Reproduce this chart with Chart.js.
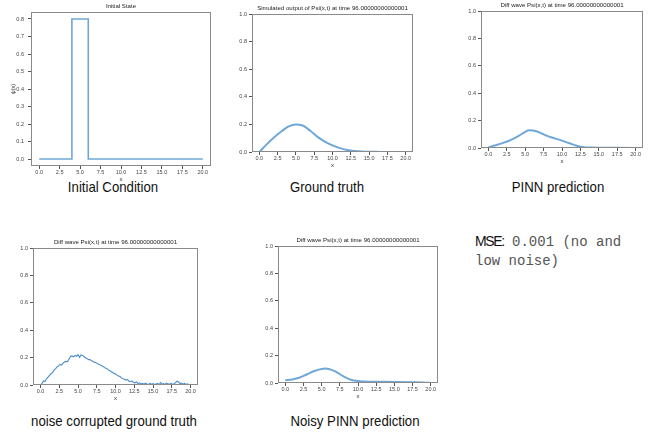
<!DOCTYPE html>
<html><head><meta charset="utf-8">
<script src="https://cdn.jsdelivr.net/npm/chart.js@4"></script>
<style>
html,body{margin:0;padding:0;background:#fff;width:656px;height:436px;overflow:hidden;position:relative;font-family:"Liberation Sans",Arial,sans-serif;}
canvas{position:absolute;}
.cap{position:absolute;font-size:15px;line-height:15px;white-space:nowrap;color:#111;transform:translateX(-50%) scaleX(0.88);transform-origin:50% 50%;}
.mse{position:absolute;left:475px;top:233px;font-size:14px;line-height:17.5px;color:#111;white-space:nowrap;}
.mse .lab{font-family:"Liberation Sans",Arial,sans-serif;letter-spacing:-1.4px;}
.mse .mono{font-family:"Liberation Mono","Courier New",monospace;color:#555;}
</style></head><body>

<div class="cap" style="left:113px;top:179px;">Initial Condition</div>
<div class="cap" style="left:327px;top:178.5px;">Ground truth</div>
<div class="cap" style="left:558px;top:179px;">PINN prediction</div>
<div class="cap" style="left:114px;top:413px;">noise corrupted ground truth</div>
<div class="cap" style="left:355px;top:413px;">Noisy PINN prediction</div>
<div class="mse"><span class="lab">MSE:</span><span class="mono"> 0.001 (no and<br>low noise)</span></div>

<canvas id="c1"></canvas>
<canvas id="c2"></canvas>
<canvas id="c3"></canvas>
<canvas id="c4"></canvas>
<canvas id="c5"></canvas>

<script>
// ---- data ----
const xTickVals = [0, 2.5, 5, 7.5, 10, 12.5, 15, 17.5, 20];
const yTickVals = [0, 0.2, 0.4, 0.6, 0.8, 1.0];
const yTickValsInit = [0, 0.1, 0.2, 0.3, 0.4, 0.5, 0.6, 0.7, 0.8];

const initX = [0, 4, 4, 6, 6, 20];
const initY = [0, 0, 0.8, 0.8, 0, 0];

const truthX = [0,1,2,3,4,5,6,7,8,9,10,11,12,13,14,15,16,17,18,19,20];
const truthY = [0,0.055,0.105,0.148,0.185,0.2,0.19,0.152,0.108,0.074,0.048,0.028,0.015,0.008,0.004,0.002,0.001,0,0,0,0];

const pinnX = [0,1,2,3,4,5,5.5,6,6.5,7,7.5,8,8.5,9,10,11,12,12.5,13,14,15,17.5,20];
const pinnY = [0.005,0.02,0.037,0.058,0.085,0.118,0.13,0.128,0.122,0.112,0.1,0.088,0.078,0.07,0.054,0.035,0.016,0.009,0.005,0.003,0.002,0.001,0];

const noisyX = [0,0.2,0.4,0.6,0.8,1,1.2,1.4,1.6,1.8,2,2.2,2.4,2.6,2.8,3,3.2,3.4,3.6,3.8,4,4.2,4.4,4.6,4.8,5,5.2,5.4,5.6,5.8,6,6.2,6.4,6.6,6.8,7,7.2,7.4,7.6,7.8,8,8.2,8.4,8.6,8.8,9,9.2,9.4,9.6,9.8,10,10.2,10.4,10.6,10.8,11,11.2,11.4,11.6,11.8,12,12.2,12.4,12.6,12.8,13,13.2,13.4,13.6,13.8,14,14.2,14.4,14.6,14.8,15,15.2,15.4,15.6,15.8,16,16.2,16.4,16.6,16.8,17,17.2,17.4,17.6,17.8,18,18.2,18.4,18.6,18.8,19,19.2,19.4,19.6,19.8,20];
const noisyY = [0,0.012,0.03,0.025,0.045,0.058,0.07,0.082,0.09,0.108,0.118,0.132,0.14,0.15,0.145,0.16,0.168,0.172,0.17,0.19,0.208,0.212,0.206,0.215,0.21,0.222,0.202,0.22,0.216,0.208,0.198,0.194,0.185,0.186,0.176,0.172,0.166,0.162,0.156,0.15,0.146,0.138,0.134,0.124,0.122,0.112,0.106,0.098,0.092,0.086,0.08,0.072,0.066,0.062,0.05,0.046,0.042,0.036,0.04,0.028,0.024,0.03,0.018,0.016,0.022,0.01,0.016,0.008,0.012,0.006,0.014,0.008,0.004,0.012,0.006,0.01,0.004,0.008,0.012,0.002,0.018,0.006,0.01,0.004,0.014,0.008,0.006,0.012,0.004,0.01,0.016,0.028,0.022,0.01,0.014,0.006,0.012,0.004,0.008,0.002,0.006];

const noisyPinnX = [0,1,2,3,4,5,5.5,6,7,8,9,10,11,12.5,15,17.5,19,20];
const noisyPinnY = [0.021,0.026,0.04,0.064,0.088,0.102,0.105,0.102,0.081,0.048,0.024,0.014,0.011,0.009,0.008,0.006,0.004,0.0];

const titleSim = 'Simulated output of Psi(x,t) at time 96.00000000000001';
const titleDiff = 'Diff wave Psi(x,t) at time 96.00000000000001';

// ---- drawing ----
const FAM = '"Liberation Sans", "DejaVu Sans", Arial, sans-serif';
const boxPlugin = {
  id: 'box',
  afterDraw(chart) {
    const a = chart.chartArea, c = chart.ctx;
    c.save();
    c.strokeStyle = '#8a8a8a';
    c.lineWidth = 1;
    c.strokeRect(Math.round(a.left) + 0.5, Math.round(a.top) + 0.5, Math.round(a.right - a.left) - 1, Math.round(a.bottom - a.top) - 1);
    c.restore();
  }
};

function pts(xs, ys) { return xs.map((x, i) => ({x: x, y: ys[i]})); }

function panel(id, rect, cfg) {
  const YW = 30, TH = 12, XH = 20, PR = 6;
  const cv = document.getElementById(id);
  const w = rect.R - rect.L + YW + PR, h = rect.B - rect.T + TH + XH;
  cv.width = w; cv.height = h;
  cv.style.left = (rect.L - YW) + 'px';
  cv.style.top = (rect.T - TH) + 'px';
  cv.style.width = w + 'px'; cv.style.height = h + 'px';
  new Chart(cv, {
    type: 'line',
    data: { datasets: [{
      data: pts(cfg.x, cfg.y),
      borderColor: cfg.color,
      borderWidth: cfg.width,
      pointRadius: 0,
      fill: false,
      tension: 0,
      cubicInterpolationMode: cfg.smooth ? 'monotone' : 'default'
    }]},
    options: {
      responsive: false, animation: false, devicePixelRatio: 1,
      layout: { padding: { top: 0, right: PR, bottom: 0, left: 0 } },
      plugins: {
        legend: { display: false }, tooltip: { enabled: false },
        title: { display: true, text: cfg.title, color: '#222', fullSize: false,
          font: { family: FAM, size: 6.1, weight: 'normal', lineHeight: 1 },
          padding: { top: 3, bottom: 2.9 } }
      },
      scales: {
        x: {
          type: 'linear', min: -1, max: 21,
          afterBuildTicks: s => { s.ticks = xTickVals.map(v => ({value: v})); },
          afterFit: s => { s.height = XH; },
          ticks: { font: { family: FAM, size: 5.5 }, color: '#444', padding: 0, maxRotation: 0, autoSkip: false,
                   callback: v => Number(v).toFixed(1) },
          grid: { drawOnChartArea: false, drawTicks: true, tickLength: 3, color: '#555' },
          border: { display: false },
          title: { display: true, text: 'x', color: '#333', font: { family: FAM, size: 6 }, padding: { top: 0, bottom: 3 } }
        },
        y: {
          type: 'linear', min: cfg.ymin, max: cfg.ymax,
          afterBuildTicks: s => { s.ticks = cfg.yticks.map(v => ({value: v})); },
          afterFit: s => { s.width = YW; },
          ticks: { font: { family: FAM, size: 5.5 }, color: '#444', padding: cfg.ypad, autoSkip: false,
                   callback: v => Number(v).toFixed(1) },
          grid: { drawOnChartArea: false, drawTicks: true, tickLength: 3, color: '#555' },
          border: { display: false },
          title: { display: !!cfg.ytitle, text: cfg.ytitle || '', color: '#333', font: { family: FAM, size: 5.5 }, padding: { top: 9, bottom: 0 } }
        }
      }
    },
    plugins: [boxPlugin]
  });
}

const light = '#6fa8d8';
panel('c1', {L:31, T:12, R:211, B:166}, {x: initX, y: initY, color: light, width: 1.6, smooth: false,
  title: 'Initial State', ymin: -0.04, ymax: 0.84, yticks: yTickValsInit, ypad: 4, ytitle: 'ψ(x)'});
panel('c2', {L:252, T:14, R:413, B:152}, {x: truthX, y: truthY, color: light, width: 2, smooth: true,
  title: titleSim, ymin: 0, ymax: 1, yticks: yTickVals, ypad: 2});
panel('c3', {L:481, T:11, R:643, B:148}, {x: pinnX, y: pinnY, color: light, width: 2, smooth: true,
  title: titleDiff, ymin: 0, ymax: 1, yticks: yTickVals, ypad: 2});
panel('c4', {L:33, T:248, R:198, B:385}, {x: noisyX, y: noisyY, color: '#4a8cc8', width: 1.1, smooth: false,
  title: titleDiff, ymin: 0, ymax: 1, yticks: yTickVals, ypad: 2});
panel('c5', {L:278, T:246, R:438, B:383}, {x: noisyPinnX, y: noisyPinnY, color: light, width: 2, smooth: true,
  title: titleDiff, ymin: 0, ymax: 1, yticks: yTickVals, ypad: 2});
</script>
</body></html>
